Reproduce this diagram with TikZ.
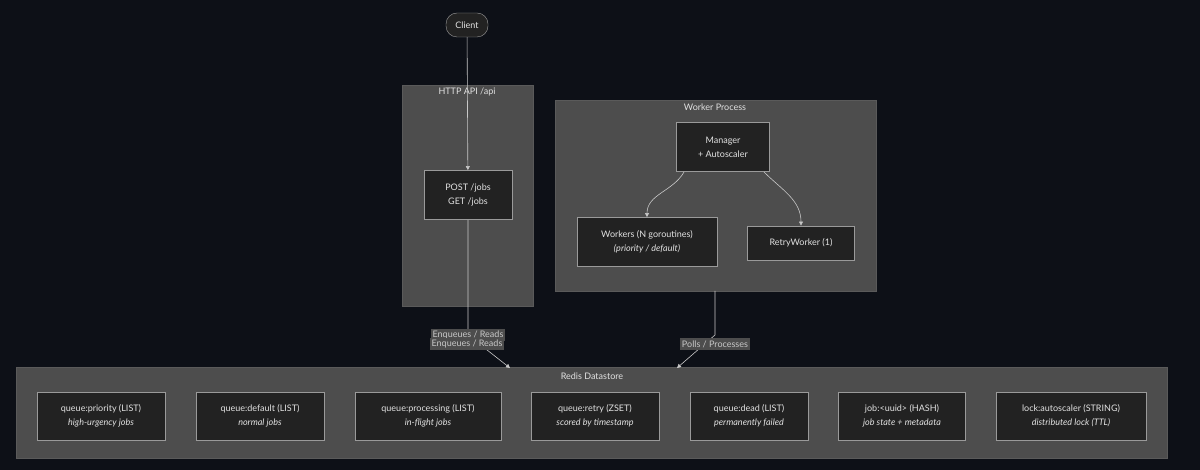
\documentclass[tikz,border=0pt]{standalone}
\usepackage{fontspec}
\setmainfont{Lato}
\usetikzlibrary{positioning,arrows.meta,backgrounds}
\definecolor{bgdark}{HTML}{0D1017}
\definecolor{clfill}{HTML}{4D4D4D}
\definecolor{clline}{HTML}{5A5A5A}
\definecolor{boxfill}{HTML}{222222}
\definecolor{boxline}{HTML}{9A9A9A}
\definecolor{txt}{HTML}{E2E2E2}
\definecolor{edge}{HTML}{C8C8C8}
\tikzset{
  cluster/.style={draw=clline,fill=clfill},
  ctitle/.style={text=txt,font=\fontsize{9}{10}\selectfont},
  box/.style={draw=boxline,fill=boxfill,text=txt,align=center,
    font=\fontsize{9}{14}\selectfont,inner sep=0pt,line width=0.8pt},
  flow/.style={draw=edge,line width=0.6pt,-{Triangle[length=4pt,width=4pt]}},
  elabel/.style={fill=clfill,text=edge,font=\fontsize{9}{10}\selectfont,inner sep=2pt}
}
\begin{document}
\begin{tikzpicture}[x=1pt,y=-1pt]
  \fill[bgdark] (0,0) rectangle (1200,470);
  \useasboundingbox (0,0) rectangle (1200,470);
  % clusters
  \draw[cluster] (402,85) rectangle (533,306);
  \node[ctitle] (apit) at (467,92) {HTTP API /api};
  \draw[cluster] (555,100) rectangle (876,291);
  \node[ctitle] (wpt) at (715,107) {Worker Process};
  \coordinate (wpb) at (715,291);
  \draw[cluster] (16,367) rectangle (1167,458);
  \node[ctitle] (rdt) at (592,376) {Redis Datastore};
  % nodes
  \node[draw=boxline,fill=boxfill,text=txt,rounded corners=11pt,minimum width=42pt,
    minimum height=24pt,font=\fontsize{9}{10}\selectfont] (client) at (467,25) {Client};
  \node[box,minimum width=88pt,minimum height=49pt] (api) at (468,195) {POST /jobs\\GET /jobs};
  \node[box,minimum width=93pt,minimum height=49pt] (mgr) at (723,147) {Manager\\+ Autoscaler};
  \node[box,minimum width=140pt,minimum height=49pt] (wrk) at (647,242) {Workers (N goroutines)\\\textit{(priority / default)}};
  \node[box,minimum width=107pt,minimum height=34pt] (rtw) at (801,243) {RetryWorker (1)};
  % redis keys
  \foreach \name/\cx/\w/\key/\desc in {
    qpri/101/128/queue:priority (LIST)/high-urgency jobs,
    qdef/260/128/queue:default (LIST)/normal jobs,
    qproc/428/146/queue:processing (LIST)/in-flight jobs,
    qret/595/128/queue:retry (ZSET)/scored by timestamp,
    qdead/749/118/queue:dead (LIST)/permanently failed,
    jhash/902/127/job:<uuid> (HASH)/job state + metadata,
    lock/1071/150/lock:autoscaler (STRING)/distributed lock (TTL)}
    \node[box,minimum width=\w pt,minimum height=48pt] (\name) at (\cx,416) {\key\\\textit{\desc}};
  % connectors
  \coordinate (rdin1) at (510,368);
  \coordinate (rdin2) at (677,368);
  \draw[flow] (client) -- (api);
  \draw[flow] (mgr.south west) ++(8,0) coordinate (m1) to[out=240,in=90] (wrk.north);
  \draw[flow] (mgr.south east) ++(-6,0) coordinate (m2) to[out=-45,in=90] (rtw.north);
  \draw[flow] (api.south) -- (468,335) -- (rdin1)
    node[elabel,pos=0] (l1) at (467,344) {Enqueues / Reads};
  \draw[flow] (wpb) -- (715,335) -- (rdin2);
  \node[elabel] (l2) at (715,344) {Polls / Processes};
  \node[elabel] at (467,344) {Enqueues / Reads};
\end{tikzpicture}
\end{document}
